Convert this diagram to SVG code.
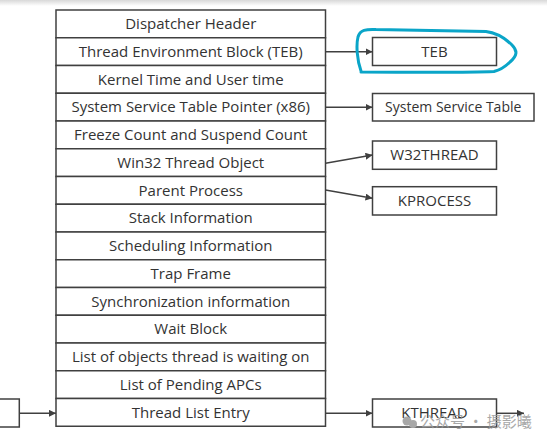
<svg xmlns="http://www.w3.org/2000/svg" width="547" height="442" viewBox="0 0 547 442">
<defs>
<style>
.box{fill:#fff;stroke:#404040;stroke-width:1.5}
.t{font-family:"Open Sans","Liberation Sans",sans-serif;font-size:15px;fill:#333;text-anchor:middle}
.c{stroke:#404040;stroke-width:1.5;fill:none;marker-end:url(#ah)}
.wm{font-family:"Noto Sans CJK SC",sans-serif;font-size:15px;fill:#9a9a9a;opacity:0.85}
</style>
<marker id="ah" viewBox="0 0 10 10" refX="10" refY="5" markerWidth="7" markerHeight="7" markerUnits="userSpaceOnUse" orient="auto">
<path d="M0,0 L10,5 L0,10 z" fill="#404040"/>
</marker>
<linearGradient id="top" x1="0" y1="0" x2="0" y2="1">
<stop offset="0" stop-color="#d8d8d8"/>
<stop offset="1" stop-color="#ffffff"/>
</linearGradient>
</defs>
<rect width="547" height="442" fill="#fff"/>
<rect width="547" height="6" fill="url(#top)"/>
<g id="table">
<g id="row1"><rect class="box" x="56" y="10" width="269.5" height="27.75"/><text class="t" x="190.75" y="29.2">Dispatcher Header</text></g>
<g id="row2"><rect class="box" x="56" y="37.75" width="269.5" height="27.75"/><text class="t" x="190.75" y="56.9">Thread Environment Block (TEB)</text></g>
<g id="row3"><rect class="box" x="56" y="65.5" width="269.5" height="27.75"/><text class="t" x="190.75" y="84.7">Kernel Time and User time</text></g>
<g id="row4"><rect class="box" x="56" y="93.25" width="269.5" height="27.75"/><text class="t" x="190.75" y="112.4">System Service Table Pointer (x86)</text></g>
<g id="row5"><rect class="box" x="56" y="121" width="269.5" height="27.75"/><text class="t" x="190.75" y="140.2">Freeze Count and Suspend Count</text></g>
<g id="row6"><rect class="box" x="56" y="148.75" width="269.5" height="27.75"/><text class="t" x="190.75" y="167.9">Win32 Thread Object</text></g>
<g id="row7"><rect class="box" x="56" y="176.5" width="269.5" height="27.75"/><text class="t" x="190.75" y="195.7">Parent Process</text></g>
<g id="row8"><rect class="box" x="56" y="204.25" width="269.5" height="27.75"/><text class="t" x="190.75" y="223.4">Stack Information</text></g>
<g id="row9"><rect class="box" x="56" y="232" width="269.5" height="27.75"/><text class="t" x="190.75" y="251.2">Scheduling Information</text></g>
<g id="row10"><rect class="box" x="56" y="259.75" width="269.5" height="27.75"/><text class="t" x="190.75" y="278.9">Trap Frame</text></g>
<g id="row11"><rect class="box" x="56" y="287.5" width="269.5" height="27.75"/><text class="t" x="190.75" y="306.7">Synchronization information</text></g>
<g id="row12"><rect class="box" x="56" y="315.25" width="269.5" height="27.75"/><text class="t" x="190.75" y="334.4">Wait Block</text></g>
<g id="row13"><rect class="box" x="56" y="343" width="269.5" height="27.75"/><text class="t" x="190.75" y="362.2">List of objects thread is waiting on</text></g>
<g id="row14"><rect class="box" x="56" y="370.75" width="269.5" height="27.75"/><text class="t" x="190.75" y="389.9">List of Pending APCs</text></g>
<g id="row15"><rect class="box" x="56" y="398.5" width="269.5" height="27.75"/><text class="t" x="190.75" y="417.7">Thread List Entry</text></g>
</g>
<g id="teb"><rect class="box" x="372.5" y="37.5" width="124" height="28"/><text class="t" x="434.5" y="56.7">TEB</text></g>
<g id="sst"><rect class="box" x="372.5" y="93.5" width="161.5" height="27.5"/><text class="t" x="453.25" y="112.3" style="font-size:14px">System Service Table</text></g>
<g id="w32"><rect class="box" x="372.5" y="141" width="124" height="28.3"/><text class="t" x="434.5" y="160.3">W32THREAD</text></g>
<g id="kprocess"><rect class="box" x="372.5" y="186.7" width="124" height="28.3"/><text class="t" x="434.5" y="206">KPROCESS</text></g>
<g id="kthread"><rect class="box" x="372.5" y="399" width="124" height="28"/><text class="t" x="434.5" y="418">KTHREAD</text></g>
<g id="prev"><rect class="box" x="-2" y="399" width="21.3" height="28"/></g>
<g id="connectors">
<line class="c" x1="325.5" y1="51.7" x2="372.5" y2="51.7"/>
<line class="c" x1="325.5" y1="107.3" x2="372.5" y2="107.3"/>
<line class="c" x1="325.5" y1="163.3" x2="372.5" y2="155"/>
<line class="c" x1="325.5" y1="190" x2="372.5" y2="198.3"/>
<line class="c" x1="19.3" y1="413.3" x2="56" y2="413.3"/>
<line class="c" x1="325.5" y1="413.3" x2="372.5" y2="413.3"/>
<line class="c" x1="496.5" y1="413.3" x2="524" y2="413.3"/>
</g>
<path d="M361,71 C357,60 356,45 358,37 C360,30 366,29 376,29.5 L486,31.5 C498,33 505,38 512,45 C518,51 517,56 510,62 C505,67 500,70 494,71.5 C460,73 400,72 361,72" fill="none" stroke="#0aa5c8" stroke-width="3" stroke-linecap="round"/>
<g id="watermark">
<circle cx="407" cy="421" r="4.5" fill="#a8a8a8"/>
<circle cx="413" cy="424" r="4" fill="#a8a8a8"/>
<text class="wm" x="420" y="427">公众号 · 摄影曦</text>
</g>
</svg>
